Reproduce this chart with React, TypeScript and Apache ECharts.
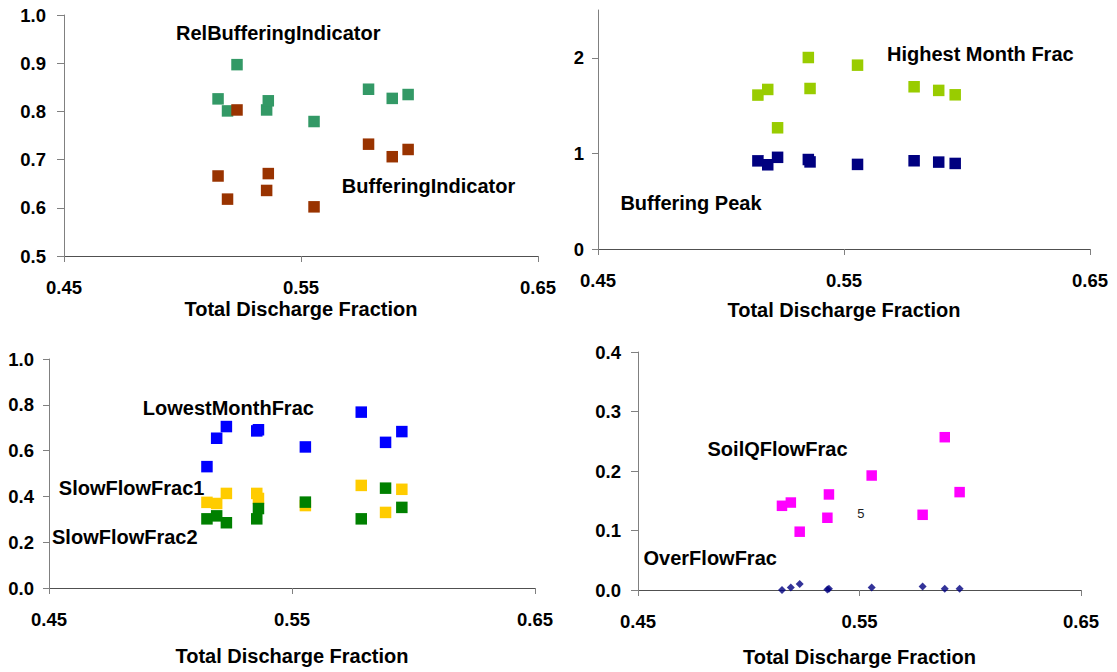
import React, { useEffect, useRef } from "react";
import * as echarts from "echarts";

// Shared x values: total discharge fraction for each of the nine catchments
const discharge = [0.515, 0.519, 0.523, 0.5355, 0.5362, 0.5555, 0.5785, 0.5885, 0.5952];

// Top-left panel
const relBufferingIndicator = [0.826, 0.801, 0.897, 0.803, 0.822, 0.779, 0.846, 0.827, 0.835];
const bufferingIndicator = [0.666, 0.618, 0.803, 0.636, 0.671, 0.602, 0.732, 0.706, 0.721];

// Top-right panel
const highestMonthFrac = [1.61, 1.669, 1.268, 2.003, 1.679, 1.923, 1.697, 1.659, 1.613];
const bufferingPeak = [0.922, 0.881, 0.959, 0.936, 0.911, 0.885, 0.923, 0.909, 0.895];

// Bottom-left panel
const lowestMonthFrac = [0.53, 0.654, 0.705, 0.686, 0.691, 0.616, 0.768, 0.636, 0.683];
const slowFlowFrac1 = [0.374, 0.369, 0.413, 0.413, 0.391, 0.36, 0.448, 0.33, 0.431];
const slowFlowFrac2 = [0.302, 0.315, 0.285, 0.302, 0.347, 0.375, 0.302, 0.436, 0.352];

// Bottom-right panel
const soilQFlowFrac = [0.1415, 0.147, 0.098, 0.1214, 0.1606, 0.1924, 0.1264, 0.2568, 0.1645];
const overFlowFrac = [0.0, 0.004, 0.01, 0.001, 0.002, 0.004, 0.006, 0.002, 0.002];

// Axis ticks
const xTicks = [0.45, 0.55, 0.65];
const xTitle = "Total Discharge Fraction";

const FONT = "'Liberation Sans', Arial, sans-serif";

const pairs = (ys: number[]) => discharge.map((x, i) => [x, ys[i]]);

// In-plot series captions, anchored in data coordinates of their panel
const captions = [
  { grid: 0, text: "RelBufferingIndicator", x: 0.5404, y: 0.962, bold: true },
  { grid: 0, text: "BufferingIndicator", x: 0.6038, y: 0.646, bold: true },
  { grid: 1, text: "Highest Month Frac", x: 0.6054, y: 2.042, bold: true },
  { grid: 1, text: "Buffering Peak", x: 0.4878, y: 0.477, bold: true },
  { grid: 2, text: "LowestMonthFrac", x: 0.5238, y: 0.785, bold: true },
  { grid: 2, text: "SlowFlowFrac1", x: 0.484, y: 0.435, bold: true },
  { grid: 2, text: "SlowFlowFrac2", x: 0.4812, y: 0.223, bold: true },
  { grid: 3, text: "SoilQFlowFrac", x: 0.513, y: 0.2366, bold: true },
  { grid: 3, text: "OverFlowFrac", x: 0.4826, y: 0.053, bold: true },
  { grid: 3, text: "5", x: 0.5506, y: 0.1287, bold: false },
];

export default function App() {
  const ref = useRef<HTMLDivElement>(null);

  useEffect(() => {
    if (!ref.current) return;
    const chart = echarts.init(ref.current, undefined, { renderer: "svg" });

    const grids = [
      { left: 64, top: 15, width: 474, height: 241 },
      { left: 598, top: 10, width: 492, height: 239 },
      { left: 49, top: 359, width: 486, height: 229 },
      { left: 638, top: 352, width: 443, height: 238 },
    ];
    const nameGaps = [43, 51, 58, 57];
    const yMargins = [18, 14, 15, 17];
    const yTickLens = [7, 6, 6, 7];

    const xAxes = grids.map((_, i) => ({
      type: "value",
      gridIndex: i,
      min: 0.45,
      max: 0.65,
      name: xTitle,
      nameLocation: "middle",
      nameGap: nameGaps[i],
      nameTextStyle: { fontFamily: FONT, fontWeight: "bold", fontSize: 20, color: "#000" },
      axisLine: { show: true, onZero: false, lineStyle: { color: "#505050", width: 1 } },
      axisTick: { show: true, length: 6, customValues: xTicks, lineStyle: { color: "#808080" } },
      axisLabel: {
        customValues: xTicks,
        margin: 22,
        fontFamily: FONT,
        fontWeight: "bold",
        fontSize: 18.5,
        color: "#000",
        formatter: (v: number) => v.toFixed(2),
      },
      splitLine: { show: false },
    }));

    const yLabel = (digits: number, margin: number) => ({
      margin,
      fontFamily: FONT,
      fontWeight: "bold",
      fontSize: 18.5,
      color: "#000",
      formatter: (v: number) => v.toFixed(digits),
    });
    const yLine = { show: true, lineStyle: { color: "#808080", width: 1 } };
    const yTick = (len: number) => ({ show: true, length: len, lineStyle: { color: "#808080" } });

    const yAxes = [
      {
        type: "value", gridIndex: 0, min: 0.5, max: 1.0, interval: 0.1,
        axisLine: yLine, axisTick: yTick(yTickLens[0]), axisLabel: yLabel(1, yMargins[0]),
        splitLine: { show: false },
      },
      {
        type: "value", gridIndex: 1, min: 0, max: 2.5,
        axisLine: yLine,
        axisTick: { ...yTick(yTickLens[1]), customValues: [0, 1, 2] },
        axisLabel: { ...yLabel(0, yMargins[1]), customValues: [0, 1, 2] },
        splitLine: { show: false },
      },
      {
        type: "value", gridIndex: 2, min: 0, max: 1.0, interval: 0.2,
        axisLine: yLine, axisTick: yTick(yTickLens[2]), axisLabel: yLabel(1, yMargins[2]),
        splitLine: { show: false },
      },
      {
        type: "value", gridIndex: 3, min: 0, max: 0.4, interval: 0.1,
        axisLine: yLine, axisTick: yTick(yTickLens[3]), axisLabel: yLabel(1, yMargins[3]),
        splitLine: { show: false },
      },
    ];

    const square = (name: string, idx: number, ys: number[], color: string, size = 11.5) => ({
      name,
      type: "scatter",
      xAxisIndex: idx,
      yAxisIndex: idx,
      symbol: "rect",
      symbolSize: size,
      itemStyle: { color, opacity: 1 },
      data: pairs(ys),
      emphasis: { disabled: true },
    });

    chart.setOption({
      animation: false,
      backgroundColor: "#ffffff",
      grid: grids.map((g) => ({ ...g, containLabel: false })),
      xAxis: xAxes,
      yAxis: yAxes,
      series: [
        square("RelBufferingIndicator", 0, relBufferingIndicator, "#339966"),
        square("BufferingIndicator", 0, bufferingIndicator, "#993300"),
        square("Highest Month Frac", 1, highestMonthFrac, "#99CC00"),
        square("Buffering Peak", 1, bufferingPeak, "#000080"),
        square("LowestMonthFrac", 2, lowestMonthFrac, "#0000FF"),
        square("SlowFlowFrac1", 2, slowFlowFrac1, "#FFCC00"),
        square("SlowFlowFrac2", 2, slowFlowFrac2, "#008000"),
        square("SoilQFlowFrac", 3, soilQFlowFrac, "#FF00FF", 10.5),
        {
          name: "OverFlowFrac",
          type: "scatter",
          xAxisIndex: 3,
          yAxisIndex: 3,
          symbol: "diamond",
          symbolSize: 8,
          itemStyle: { color: "#000080" },
          data: pairs(overFlowFrac),
          emphasis: { disabled: true },
        },
      ],
    });

    const graphic = captions.map((c) => {
      const p = chart.convertToPixel({ gridIndex: c.grid }, [c.x, c.y]) as number[];
      return {
        type: "text",
        x: p[0],
        y: p[1],
        silent: true,
        style: {
          text: c.text,
          fill: c.bold ? "#000" : "#222",
          font: `${c.bold ? "bold " : ""}${c.bold ? 20 : 13}px ${FONT}`,
          align: "center",
          verticalAlign: "middle",
          textAlign: "center",
          textVerticalAlign: "middle",
        },
      };
    });
    chart.setOption({ graphic });

    return () => chart.dispose();
  }, []);

  return (
    <div
      ref={ref}
      style={{ position: "absolute", left: 0, top: 0, width: 1117, height: 672, background: "#fff" }}
    />
  );
}
